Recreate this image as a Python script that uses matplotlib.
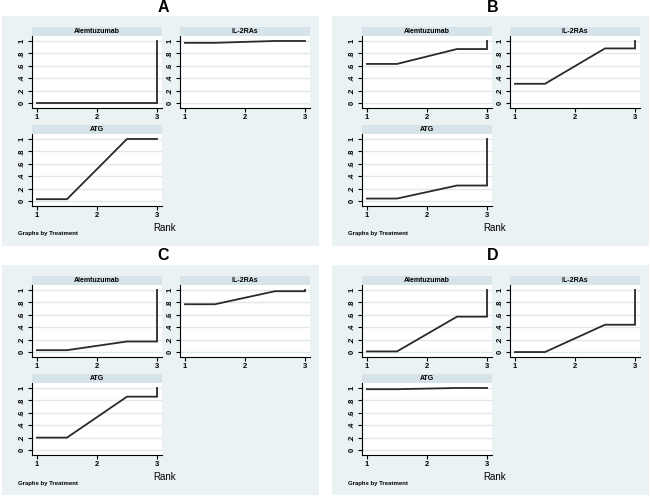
import matplotlib
matplotlib.use("Agg")
import matplotlib.pyplot as plt
from matplotlib.patches import Rectangle

plt.rcParams["font.family"] = ["Liberation Sans", "DejaVu Sans"]

treatments = ["Alemtuzumab", "IL-2RAs", "ATG"]
panel_labels = ["A", "B", "C", "D"]
ranks = [1, 2, 3]
y_ticks = [0, 0.2, 0.4, 0.6, 0.8, 1.0]
y_tick_labels = ["0", ".2", ".4", ".6", ".8", "1"]

# cumulative rank probability at rank 1, 2, 3 for each treatment
cum_a = [[0.00, 0.00, 1.0], [0.97, 1.00, 1.0], [0.03, 1.00, 1.0]]
cum_b = [[0.63, 0.87, 1.0], [0.31, 0.88, 1.0], [0.04, 0.25, 1.0]]
cum_c = [[0.03, 0.17, 1.0], [0.77, 0.98, 1.0], [0.20, 0.86, 1.0]]
cum_d = [[0.01, 0.57, 1.0], [0.00, 0.44, 1.0], [0.98, 1.00, 1.0]]
panel_data = [cum_a, cum_b, cum_c, cum_d]

W, H = 650, 497
BG = "#EAF2F3"
STRIP = "#D6E3E9"
GRID = "#DFE8EB"
LINE = "#2a2a2a"

fig = plt.figure(figsize=(W / 100, H / 100), dpi=100)
fig.patch.set_facecolor("white")


def fx(x):
    return x / W


def fy(y):
    return 1 - y / H


def add_rect(x0, y0, x1, y1, color, z):
    fig.patches.append(Rectangle((fx(x0), fy(y1)), (x1 - x0) / W, (y1 - y0) / H,
                                 transform=fig.transFigure, facecolor=color,
                                 edgecolor="none", zorder=z))


# subplot boxes in pixels, relative to the panel origin
boxes = [(32, 36, 162, 108), (180, 36, 310, 108), (32, 134, 162, 206)]
strip_h = 9
offsets = [(0, 0), (330, 0), (0, 249), (330, 249)]

for label, data, (ox, oy) in zip(panel_labels, panel_data, offsets):
    add_rect(ox + 2, oy + 16, ox + 319, oy + 246, BG, -2)
    fig.text(fx(ox + 163), fy(oy + 7), label, ha="center", va="center",
             fontsize=11.5, fontweight="bold")

    for name, cum, (x0, y0, x1, y1) in zip(treatments, data, boxes):
        ax = fig.add_axes([fx(ox + x0), fy(oy + y1), (x1 - x0) / W, (y1 - y0) / H])
        ax.set_zorder(5)
        add_rect(ox + x0, oy + y0 - strip_h, ox + x1, oy + y0, STRIP, -1)
        fig.text(fx(ox + (x0 + x1) / 2), fy(oy + y0 - strip_h / 2), name,
                 ha="center", va="center", fontsize=5, fontweight="bold")

        xs = [ranks[0], (ranks[0] + ranks[1]) / 2, (ranks[1] + ranks[2]) / 2, ranks[2], ranks[2]]
        ys = [cum[0], cum[0], cum[1], cum[1], cum[2]]
        ax.plot(xs, ys, color=LINE, lw=1.3, solid_joinstyle="miter", zorder=3)

        ax.set_xlim(0.917, 3.083)
        ax.set_ylim(-0.08, 1.08)
        ax.set_facecolor("white")
        ax.set_xticks(ranks)
        ax.set_yticks(y_ticks)
        ax.set_yticklabels(y_tick_labels, rotation=90, va="center")
        ax.grid(axis="y", color=GRID, lw=1.0)
        ax.set_axisbelow(True)
        for side in ["top", "right"]:
            ax.spines[side].set_visible(False)
        for side in ["left", "bottom"]:
            ax.spines[side].set_linewidth(0.8)
        ax.tick_params(axis="both", length=3, width=0.8, labelsize=5.5, pad=1.5)
        for t in ax.get_xticklabels() + ax.get_yticklabels():
            t.set_fontweight("bold")

    fig.text(fx(ox + 165), fy(oy + 228), "Rank", ha="center", va="center", fontsize=7)
    fig.text(fx(ox + 18), fy(oy + 234), "Graphs by Treatment", ha="left", va="center",
             fontsize=4.3, fontweight="bold")

fig.savefig("out.png", dpi=100)
